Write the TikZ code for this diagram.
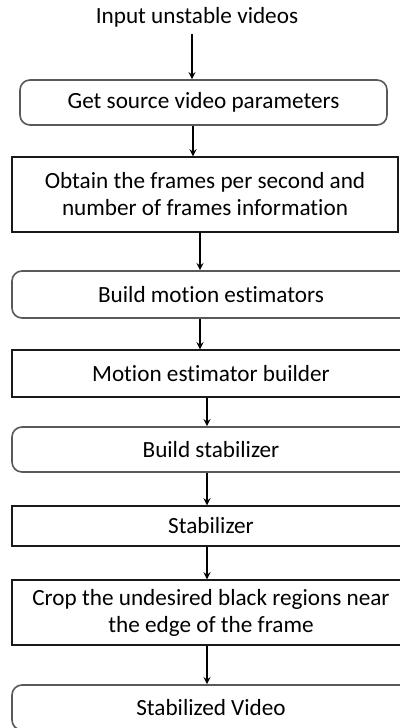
\documentclass[tikz,border=0pt]{standalone}
\usepackage{fontspec}
\setmainfont{Carlito}[Ligatures=NoCommon]
\usetikzlibrary{arrows,positioning}

\tikzset{
    stepround/.style = {draw=black!65, line width=0.8pt, rounded corners=5pt, align=center, inner sep=0pt},
    steprect/.style  = {draw=black!90, line width=0.7pt, align=center, inner sep=0pt},
    flow/.style      = {->, >=stealth, line width=0.6pt}
}

\begin{document}
\begin{tikzpicture}[x=0.5pt, y=-0.5pt, font=\fontsize{11.6}{13.5}\selectfont]
                \clip (0,0) rectangle (400,728);
                \node                                                               (in) at (197,17)    {Input unstable videos};
                \node[stepround, minimum width=183.5pt, minimum height=22.5pt]      (b1) at (203.5,102.5) {Get source video parameters};
                \node[steprect,  minimum width=193pt,   minimum height=37.5pt]      (b2) at (205,194.5) {Obtain the frames per second and\\number of frames information};
                \node[stepround, minimum width=199pt,   minimum height=23.5pt]      (b3) at (211,294.5) {Build motion estimators};
                \node[steprect,  minimum width=199pt,   minimum height=23.5pt]      (b4) at (211,373.5) {Motion estimator builder};
                \node[stepround, minimum width=199pt,   minimum height=22.5pt]      (b5) at (211,449.5) {Build stabilizer};
                \node[steprect,  minimum width=199pt,   minimum height=20pt]        (b6) at (211,526)   {Stabilizer};
                \node[steprect,  minimum width=199pt,   minimum height=32.5pt]      (b7) at (211,612.5) {Crop the undesired black regions near\\the edge of the frame};
                \node[stepround, minimum width=199pt,   minimum height=22.5pt]      (b8) at (211,707.5) {Stabilized Video};

                \draw[flow] ([xshift=-2.5pt]in.south)  -- ([xshift=-2.5pt]in.south |- b1.north);
                \draw[flow] ([xshift=-5.25pt]b1.south) -- ([xshift=-5.25pt]b1.south |- b2.north);
                \draw[flow] ([xshift=-2.5pt]b2.south)  -- ([xshift=-2.5pt]b2.south |- b3.north);
                \draw[flow] ([xshift=-5.5pt]b3.south)  -- ([xshift=-5.5pt]b3.south |- b4.north);
                \draw[flow] ([xshift=-2pt]b4.south)    -- ([xshift=-2pt]b4.south |- b5.north);
                \draw[flow] ([xshift=-2pt]b5.south)    -- ([xshift=-2pt]b5.south |- b6.north);
                \draw[flow] ([xshift=-2pt]b6.south)    -- ([xshift=-2pt]b6.south |- b7.north);
                \draw[flow] ([xshift=-2pt]b7.south)    -- ([xshift=-2pt]b7.south |- b8.north);
            \end{tikzpicture}
\end{document}
